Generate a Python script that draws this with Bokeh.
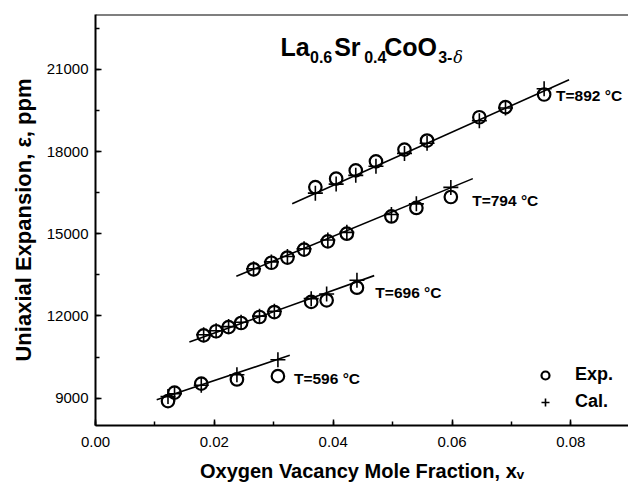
from bokeh.plotting import figure
from bokeh.models import (Label, Span, SingleIntervalTicker, NumeralTickFormatter,
                          Legend, LegendItem)
from bokeh.embed import file_html
from bokeh.resources import INLINE

# Oxygen vacancy mole fraction (x_v) with measured (Exp.) and calculated (Cal.) strain, ppm
x_892 = [0.0370, 0.0405, 0.0438, 0.0472, 0.0520, 0.0558, 0.0646, 0.0690, 0.0755]
exp_892 = [16700, 17010, 17310, 17640, 18070, 18400, 19250, 19620, 20080]
cal_892 = [16480, 16810, 17130, 17460, 17930, 18300, 19120, 19590, 20290]

x_794 = [0.0266, 0.0296, 0.0323, 0.0351, 0.0391, 0.0423, 0.0498, 0.0540, 0.0598]
exp_794 = [13700, 13940, 14130, 14420, 14720, 15000, 15630, 15940, 16340]
cal_794 = [13720, 13970, 14170, 14450, 14770, 15050, 15700, 16090, 16690]

x_696 = [0.0182, 0.0203, 0.0224, 0.0245, 0.0276, 0.0301, 0.0363, 0.0389, 0.0440]
exp_696 = [11290, 11440, 11590, 11740, 11960, 12140, 12510, 12570, 13030]
cal_696 = [11310, 11460, 11610, 11770, 11990, 12170, 12630, 12800, 13300]

x_596 = [0.0122, 0.0133, 0.0178, 0.0238, 0.0307]
exp_596 = [8890, 9200, 9530, 9680, 9800]
cal_596 = [9060, 9160, 9470, 9850, 10400]

# Linear model lines (end points) for each temperature
fit_x = {"892": [0.0331, 0.0797], "794": [0.0237, 0.0635],
         "696": [0.0158, 0.0469], "596": [0.0103, 0.0327]}
fit_y = {"892": [16090, 20620], "794": [13445, 17010],
         "696": [11050, 13470], "596": [8940, 10560]}

temps = ["892", "794", "696", "596"]
series_x = {"892": x_892, "794": x_794, "696": x_696, "596": x_596}
series_exp = {"892": exp_892, "794": exp_794, "696": exp_696, "596": exp_596}
series_cal = {"892": cal_892, "794": cal_794, "696": cal_696, "596": cal_596}
temp_labels = {"892": "T=892 °C", "794": "T=794 °C", "696": "T=696 °C", "596": "T=596 °C"}
# label anchor (x, y) in data units
temp_label_pos = {"892": (0.0775, 20050), "794": (0.0634, 16220),
                  "696": (0.0471, 12870), "596": (0.0334, 9725)}

X0, X1 = 0.0, 0.0897
Y0, Y1 = 8000, 23000
SANS = "Liberation Sans"

p = figure(width=628, height=488, x_range=(X0, X1), y_range=(Y0, Y1),
           output_backend="svg", toolbar_location=None,
           min_border_left=95, min_border_right=0, min_border_top=14, min_border_bottom=63)
p.outline_line_color = None
p.grid.visible = False
p.background_fill_color = "white"
p.border_fill_color = "white"

p.xaxis.ticker = SingleIntervalTicker(interval=0.02, num_minor_ticks=2)
p.yaxis.ticker = SingleIntervalTicker(interval=3000, num_minor_ticks=2)
p.xaxis.formatter = NumeralTickFormatter(format="0.00")
for ax in (p.xaxis, p.yaxis):
    ax.axis_line_width = 2
    ax.axis_line_color = "black"
    ax.major_tick_in = 6
    ax.major_tick_out = 0
    ax.minor_tick_in = 4
    ax.minor_tick_out = 0
    ax.major_tick_line_width = 1.5
    ax.minor_tick_line_width = 1.5
    ax.major_label_text_font = SANS
    ax.major_label_text_font_size = "15px"
    ax.major_label_text_color = "black"
    ax.axis_label_text_font = SANS
    ax.axis_label_text_font_style = "bold"
    ax.axis_label_text_color = "black"
p.xaxis.major_label_standoff = 11
p.yaxis.major_label_standoff = 7

p.xaxis.axis_label = "Oxygen Vacancy Mole Fraction, xᵥ"
p.xaxis.axis_label_text_font_size = "20px"
p.xaxis.axis_label_standoff = 10
p.yaxis.axis_label = "Uniaxial Expansion, ε, ppm"
p.yaxis.axis_label_text_font_size = "22px"
p.yaxis.axis_label_standoff = 8

# top border of the frame
p.add_layout(Span(location=Y1, dimension="width", line_color="black", line_width=2))

exp_renderers, cal_renderers = [], []
for t in temps:
    p.line(fit_x[t], fit_y[t], line_color="black", line_width=1.6)
    r_exp = p.scatter(series_x[t], series_exp[t], marker="circle", size=12.5,
                      fill_color=None, line_color="black", line_width=2.2)
    r_cal = p.scatter(series_x[t], series_cal[t], marker="cross", size=15,
                      line_color="black", line_width=1.6)
    exp_renderers.append(r_exp)
    cal_renderers.append(r_cal)
    lx, ly = temp_label_pos[t]
    p.add_layout(Label(x=lx, y=ly, text=temp_labels[t], text_font=SANS,
                       text_font_style="bold", text_font_size="15.5px",
                       text_baseline="middle", text_align="left", text_color="black"))

legend = Legend(items=[LegendItem(label="Exp.", renderers=[exp_renderers[0]]),
                       LegendItem(label="Cal.", renderers=[cal_renderers[0]])],
                location=(440, 13), border_line_color=None, background_fill_alpha=0,
                label_text_font=SANS, label_text_font_style="bold",
                label_text_font_size="18px", label_text_color="black",
                glyph_width=20, glyph_height=20,
                label_height=20, spacing=6, padding=0, margin=0, label_standoff=20)
p.add_layout(legend)


def lab(x, y, text, size, font=SANS, style="bold"):
    p.add_layout(Label(x=x, y=y, text=text, text_font=font, text_font_style=style,
                       text_font_size=size, text_baseline="alphabetic",
                       text_align="left", text_color="black"))


# Compound formula La0.6Sr0.4CoO3-δ
lab(0.03115, 21815, "La", "25px")
lab(0.0361, 21440, "0.6", "16px")
lab(0.04017, 21815, "Sr", "25px")
lab(0.04522, 21440, "0.4", "16px")
lab(0.04858, 21815, "CoO", "25px")
lab(0.05767, 21440, "3-", "16px")
lab(0.0602, 21440, "δ", "16px", font="DejaVu Serif", style="italic")

open("out.html", "w").write(file_html(p, INLINE))
